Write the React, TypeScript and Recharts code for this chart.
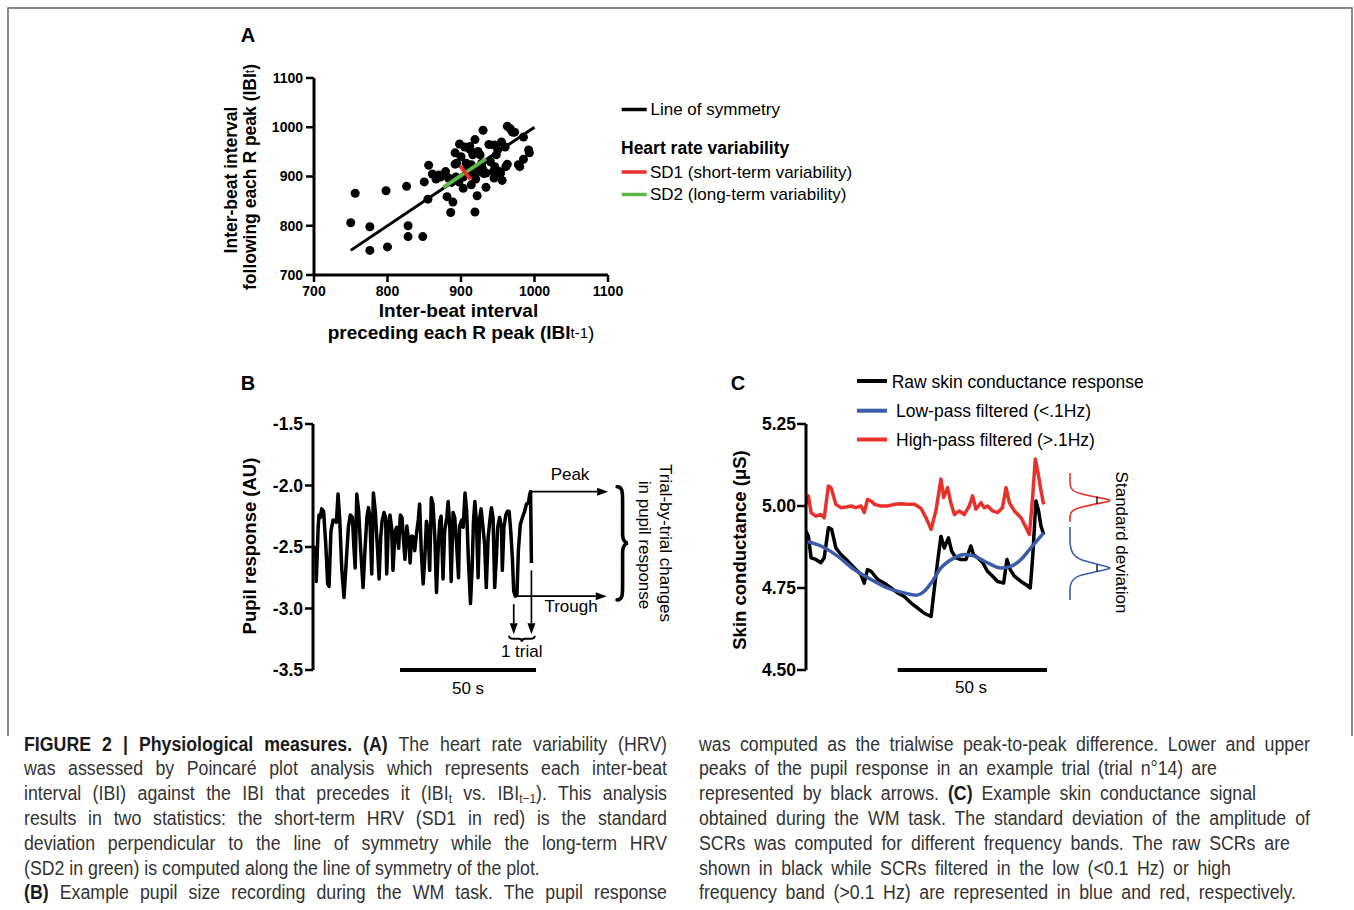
import React from "react";
import { ScatterChart, Scatter, LineChart, Line, XAxis, YAxis, ReferenceLine } from "recharts";

/**
 * Figure 2 — physiological measures.
 * A: Poincaré plot of inter-beat intervals, B: pupil trace, C: skin conductance.
 */

const FONT = '"Liberation Sans", Arial, Helvetica, sans-serif';
const RED = "#e8312a";
const GREEN = "#5cb847";
const BLUE = "#3b5ca9";

// ---- Panel A: Poincaré plot (ms) ----
const ibiPrev = [
  750, 756, 776, 776, 800, 798, 826, 828, 828, 848,
  850, 855, 856, 861, 866, 872, 879, 881, 889, 886,
  887, 892, 898, 892, 897, 903, 907, 912, 919, 923,
  914, 919, 922, 934, 930, 938, 929, 934, 945, 950,
  955, 946, 954, 956, 963, 967, 963, 973, 978, 985,
  985, 992, 993, 970, 883, 894, 907, 914, 928, 944,
  952, 961, 870, 893, 903, 912, 918, 923, 931, 916,
  926, 912, 948, 945, 980, 900, 905, 920, 940, 960,
];
const ibiNext = [
  806, 866, 798, 750, 757, 871, 880, 800, 778, 778,
  889, 854, 923, 905, 895, 899, 910, 859, 848, 827,
  888, 948, 966, 925, 889, 876, 914, 961, 975, 951,
  883, 828, 861, 878, 994, 965, 917, 907, 897, 954,
  970, 920, 907, 892, 1002, 997, 925, 990, 924, 935,
  980, 954, 948, 990, 897, 927, 927, 924, 927, 910,
  910, 920, 903, 899, 899, 906, 906, 910, 906, 944,
  944, 955, 944, 964, 920, 940, 960, 895, 930, 960,
];
const ibiTicks = [700, 800, 900, 1000, 1100];
const symmetryLine = [{ x: 750, y: 750 }, { x: 1000, y: 1000 }];
const sd2Line = [{ x: 876, y: 878 }, { x: 934, y: 936 }];
const sd1Line = [{ x: 899, y: 921 }, { x: 913, y: 894 }];

// ---- Panel B: pupil response (s, AU) ----
const pupilTime = [
  0.0, 0.2, 0.9, 1.2, 1.7, 2.2, 2.9, 3.7, 4.4, 4.9,
  5.6, 6.4, 7.1, 7.6, 8.2, 8.8, 9.6, 10.4, 11.3, 12.0,
  12.7, 13.5, 14.0, 14.5, 15.1, 15.8, 16.5, 17.4, 18.1, 18.8,
  19.4, 19.9, 20.6, 21.2, 21.9, 22.7, 23.3, 23.9, 24.4, 25.1,
  25.7, 26.1, 26.7, 27.3, 27.9, 28.4, 29.2, 29.8, 30.5, 31.1,
  31.7, 32.2, 32.8, 33.5, 34.2, 34.7, 35.3, 35.9, 36.4, 37.0,
  37.7, 38.2, 38.8, 39.5, 40.1, 40.7, 41.3, 41.9, 42.5, 43.1,
  43.8, 44.4, 45.0, 45.6, 46.1, 46.8, 47.4, 48.2, 48.7, 49.3,
  49.8, 50.5, 51.1, 51.8, 52.5, 52.9, 53.7, 54.2, 54.9, 55.5,
  56.1, 56.9, 57.5, 58.0, 58.5, 59.1, 59.7, 60.3, 60.8, 61.5,
  62.1, 62.7, 63.4, 64.0, 64.6, 65.2, 65.8, 66.4, 66.9, 67.6,
  68.3, 68.6, 69.2, 69.9, 70.5, 71.1, 71.7, 72.3, 72.8, 73.4,
  74.0, 74.5, 75.2, 76.0, 76.8, 77.5, 78.2, 78.7, 79.0, 79.3,
];
const pupilValue = [
  -2.49, -2.78, -2.34, -2.24, -2.26, -2.19, -2.21, -2.48, -2.8, -2.82,
  -2.37, -2.28, -2.29, -2.3, -2.07, -2.26, -2.69, -2.91, -2.59, -2.34,
  -2.24, -2.26, -2.49, -2.67, -2.07, -2.21, -2.51, -2.83, -2.53, -2.26,
  -2.18, -2.25, -2.72, -2.06, -2.21, -2.51, -2.76, -2.42, -2.29, -2.22,
  -2.26, -2.72, -2.34, -2.24, -2.34, -2.69, -2.37, -2.34, -2.51, -2.24,
  -2.26, -2.42, -2.6, -2.33, -2.45, -2.63, -2.41, -2.42, -2.53, -2.4,
  -2.28, -2.15, -2.53, -2.8, -2.59, -2.29, -2.36, -2.69, -2.1, -2.15,
  -2.42, -2.87, -2.53, -2.29, -2.25, -2.76, -2.37, -2.26, -2.13, -2.34,
  -2.78, -2.22, -2.26, -2.48, -2.75, -2.33, -2.28, -2.34, -2.06, -2.21,
  -2.59, -2.96, -2.67, -2.29, -2.13, -2.3, -2.75, -2.26, -2.19, -2.34,
  -2.48, -2.83, -2.42, -2.29, -2.18, -2.26, -2.83, -2.59, -2.34, -2.26,
  -2.34, -2.69, -2.34, -2.24, -2.21, -2.21, -2.37, -2.59, -2.86, -2.9,
  -2.88, -2.53, -2.32, -2.26, -2.21, -2.15, -2.14, -2.07, -2.05, -2.63,
];
const pupilTicks = [-3.5, -3.0, -2.5, -2.0, -1.5];

// ---- Panel C: skin conductance (s, µS) ----
const rawTime = [
  0, 0.8, 1.7, 3.3, 5.0, 6.1, 7.5, 8.6, 10.0, 11.7,
  14.0, 16.2, 18.4, 19.5, 20.6, 21.8, 24.0, 26.2, 28.5, 30.7,
  32.9, 35.2, 37.4, 39.6, 41.9, 43.0, 44.1, 45.2, 46.3, 47.7,
  48.8, 50.2, 51.9, 53.6, 55.2, 56.1, 57.5, 59.2, 60.8, 62.5,
  64.2, 66.2, 67.3, 68.4, 69.8, 72.0, 73.7, 75.1, 75.9, 77.0,
  77.9, 78.7, 79.6,
];
const rawValue = [
  4.923, 4.908, 4.842, 4.837, 4.827, 4.842, 4.934, 4.929, 4.872, 4.852,
  4.832, 4.811, 4.791, 4.765, 4.806, 4.801, 4.776, 4.765, 4.75, 4.735,
  4.724, 4.704, 4.689, 4.673, 4.663, 4.75, 4.832, 4.908, 4.872, 4.903,
  4.862, 4.842, 4.837, 4.837, 4.878, 4.852, 4.842, 4.827, 4.801, 4.786,
  4.77, 4.765, 4.837, 4.806, 4.786, 4.77, 4.76, 4.75, 4.842, 5.015,
  4.985, 4.939, 4.913,
];
const highTime = [
  0, 0.8, 1.7, 3.3, 5.0, 6.1, 7.5, 8.4, 10.0, 11.7,
  13.4, 15.1, 16.7, 18.4, 19.5, 20.6, 21.8, 22.9, 25.1, 27.3,
  29.6, 31.8, 34.0, 36.3, 38.5, 40.2, 41.9, 43.5, 45.2, 46.1,
  47.4, 48.5, 49.7, 51.3, 53.0, 54.7, 55.8, 56.9, 58.6, 59.7,
  60.8, 62.5, 64.2, 65.8, 67.0, 68.1, 69.8, 72.0, 73.7, 74.8,
  75.9, 76.8, 77.8, 78.7, 79.6,
];
const highValue = [
  5.005, 5.031, 4.98, 4.969, 4.974, 4.964, 5.061, 5.056, 5.005, 4.995,
  4.997, 5.0, 4.995, 5.0, 4.98, 5.02, 5.015, 5.005, 5.0, 5.0,
  5.005, 5.007, 5.005, 5.005, 4.993, 4.964, 4.929, 4.985, 5.082, 5.026,
  5.056, 5.01, 4.974, 4.985, 4.974, 5.0, 5.031, 4.99, 5.01, 4.995,
  5.0, 4.985, 4.98, 4.995, 5.056, 5.01, 4.985, 4.964, 4.934, 4.913,
  5.026, 5.143, 5.097, 5.046, 5.005,
];
const lowTime = [0, 5.0, 10.6, 16.2, 21.8, 27.3, 32.9, 36.8, 39.6, 41.9, 45.2, 49.7, 53.0, 56.4, 60.8, 65.3, 68.6, 72.0, 75.3, 79.6];
const lowValue = [4.893, 4.878, 4.847, 4.806, 4.776, 4.75, 4.735, 4.728, 4.74, 4.765, 4.811, 4.842, 4.852, 4.847, 4.827, 4.811, 4.816, 4.837, 4.872, 4.918];
const scrTicks = [4.5, 4.75, 5.0, 5.25];

const poincare = ibiPrev.map((x, i) => ({ x, y: ibiNext[i] }));
const pupil = pupilTime.map((t, i) => ({ t, v: pupilValue[i] }));
const rawScr = rawTime.map((t, i) => ({ t, v: rawValue[i] }));
const highScr = highTime.map((t, i) => ({ t, v: highValue[i] }));
const lowScr = lowTime.map((t, i) => ({ t, v: lowValue[i] }));

const axisLine = { stroke: "#000", strokeWidth: 3 };
const tickLine = { stroke: "#000", strokeWidth: 2.5 };
const noDot = () => <g />;

// line with an arrowhead at its (x2, y2) end
const arrowShape = (p: any) => {
  const { x1, y1, x2, y2 } = p;
  const a = Math.atan2(y2 - y1, x2 - x1);
  const len = 11;
  const half = 4;
  const bx = x2 - len * Math.cos(a);
  const by = y2 - len * Math.sin(a);
  const px = -Math.sin(a) * half;
  const py = Math.cos(a) * half;
  return (
    <g>
      <line x1={x1} y1={y1} x2={bx} y2={by} stroke="#000" strokeWidth={1.7} />
      <polygon points={`${x2},${y2} ${bx + px},${by + py} ${bx - px},${by - py}`} fill="#000" />
    </g>
  );
};

// "}" brace drawn along a vertical segment
const bigBrace = (p: any) => {
  const { x1, y1, y2 } = p;
  const w = 11;
  const ym = (y1 + y2) / 2;
  const xm = x1 + w * 0.5;
  const d = `M${x1},${y1} C${x1 + w * 0.45},${y1} ${xm},${y1 + 4} ${xm},${y1 + 14} L${xm},${ym - 9} C${xm},${ym - 3} ${x1 + w * 0.75},${ym} ${x1 + w},${ym} C${x1 + w * 0.75},${ym} ${xm},${ym + 3} ${xm},${ym + 9} L${xm},${y2 - 14} C${xm},${y2 - 4} ${x1 + w * 0.45},${y2} ${x1},${y2}`;
  return <path d={d} fill="none" stroke="#000" strokeWidth={3.6} strokeLinecap="round" />;
};

// small downward brace along a horizontal segment
const smallBrace = (p: any) => {
  const { x1, y1, x2 } = p;
  const h = 6;
  const xm = (x1 + x2) / 2;
  const yh = y1 + h / 2;
  const d = `M${x1},${y1} Q${x1},${yh} ${x1 + 4},${yh} L${xm - 3},${yh} Q${xm},${yh} ${xm},${y1 + h} Q${xm},${yh} ${xm + 3},${yh} L${x2 - 4},${yh} Q${x2},${yh} ${x2},${y1}`;
  return <path d={d} fill="none" stroke="#000" strokeWidth={2} />;
};

function PoincarePlot() {
  const tick = { fill: "#000", fontSize: 14, fontWeight: 700, fontFamily: FONT };
  return (
    <ScatterChart width={440} height={280} margin={{ top: 38, right: 32, bottom: 15, left: 0 }}>
      <XAxis
        type="number"
        dataKey="x"
        domain={[700, 1100]}
        ticks={ibiTicks}
        allowDataOverflow
        height={30}
        axisLine={axisLine}
        tickLine={tickLine}
        tickSize={7}
        tickMargin={4}
        tick={tick}
      />
      <YAxis
        type="number"
        dataKey="y"
        domain={[700, 1100]}
        ticks={ibiTicks}
        allowDataOverflow
        width={114}
        axisLine={axisLine}
        tickLine={tickLine}
        tickSize={8}
        tickMargin={3}
        tick={tick}
      />
      <Scatter data={symmetryLine} line={{ stroke: "#000", strokeWidth: 3 }} shape={noDot} isAnimationActive={false} />
      <Scatter
        data={poincare}
        isAnimationActive={false}
        shape={(p: any) => <circle cx={p.cx} cy={p.cy} r={4.5} fill="#000" />}
      />
      <Scatter data={sd2Line} line={{ stroke: GREEN, strokeWidth: 3.8 }} shape={noDot} isAnimationActive={false} />
      <Scatter data={sd1Line} line={{ stroke: RED, strokeWidth: 3.8 }} shape={noDot} isAnimationActive={false} />
    </ScatterChart>
  );
}

function PupilPlot() {
  const tick = { fill: "#000", fontSize: 17.5, fontWeight: 700, fontFamily: FONT };
  return (
    <LineChart width={480} height={300} data={pupil} margin={{ top: 24, right: 21.56, bottom: 30, left: 0 }}>
      <XAxis type="number" dataKey="t" domain={[-1, 126]} hide allowDataOverflow />
      <YAxis
        type="number"
        domain={[-3.5, -1.5]}
        ticks={pupilTicks}
        allowDataOverflow
        width={113}
        axisLine={axisLine}
        tickLine={tickLine}
        tickSize={8}
        tickMargin={2}
        tick={tick}
        tickFormatter={(v: number) => v.toFixed(1)}
      />
      <Line
        type="linear"
        dataKey="v"
        stroke="#000"
        strokeWidth={3.5}
        strokeLinejoin="round"
        dot={false}
        isAnimationActive={false}
      />
      <ReferenceLine segment={[{ x: 31, y: -3.5 }, { x: 81, y: -3.5 }]} stroke="#000" strokeWidth={4} />
      <ReferenceLine segment={[{ x: 79.0, y: -2.05 }, { x: 107.5, y: -2.05 }]} shape={arrowShape} />
      <ReferenceLine segment={[{ x: 73.4, y: -2.9 }, { x: 107.0, y: -2.9 }]} shape={arrowShape} />
      <ReferenceLine segment={[{ x: 72.8, y: -2.965 }, { x: 72.8, y: -3.21 }]} shape={arrowShape} />
      <ReferenceLine segment={[{ x: 79.3, y: -2.69 }, { x: 79.3, y: -3.21 }]} shape={arrowShape} />
      <ReferenceLine segment={[{ x: 71.1, y: -3.222 }, { x: 80.5, y: -3.222 }]} shape={smallBrace} />
      <ReferenceLine segment={[{ x: 110.8, y: -2.01 }, { x: 110.8, y: -2.93 }]} shape={bigBrace} />
    </LineChart>
  );
}

function ConductancePlot() {
  const tick = { fill: "#000", fontSize: 17.5, fontWeight: 700, fontFamily: FONT };
  return (
    <LineChart width={400} height={300} margin={{ top: 24, right: 40.2, bottom: 30, left: 0 }}>
      <XAxis type="number" dataKey="t" domain={[0, 85]} hide allowDataOverflow />
      <YAxis
        type="number"
        dataKey="v"
        domain={[4.5, 5.25]}
        ticks={scrTicks}
        allowDataOverflow
        width={106}
        axisLine={axisLine}
        tickLine={tickLine}
        tickSize={9}
        tickMargin={1}
        tick={tick}
        tickFormatter={(v: number) => v.toFixed(2)}
      />
      <Line data={highScr} type="linear" dataKey="v" stroke={RED} strokeWidth={3.5} strokeLinejoin="round" dot={false} isAnimationActive={false} />
      <Line data={rawScr} type="linear" dataKey="v" stroke="#000" strokeWidth={3.5} strokeLinejoin="round" dot={false} isAnimationActive={false} />
      <Line data={lowScr} type="monotone" dataKey="v" stroke={BLUE} strokeWidth={3.5} dot={false} isAnimationActive={false} />
      <ReferenceLine segment={[{ x: 30.7, y: 4.5 }, { x: 80.7, y: 4.5 }]} stroke="#000" strokeWidth={4} />
    </LineChart>
  );
}

function Overlay() {
  const t17 = { fontSize: 17, dominantBaseline: "central" as const };
  return (
    <svg
      width={1354}
      height={910}
      fontFamily={FONT}
      style={{ position: "absolute", left: 0, top: 0, pointerEvents: "none" }}
    >
      <path d="M8,736 V8 H1352 V736" fill="none" stroke="#666" strokeWidth={1.5} />

      {/* panel letters */}
      <text x={248} y={35} fontSize={20} fontWeight={700} textAnchor="middle" dominantBaseline="central">A</text>
      <text x={248} y={383} fontSize={20} fontWeight={700} textAnchor="middle" dominantBaseline="central">B</text>
      <text x={738} y={383} fontSize={20} fontWeight={700} textAnchor="middle" dominantBaseline="central">C</text>

      {/* A axis titles */}
      <text x={458.5} y={310} fontSize={19} fontWeight={700} textAnchor="middle" dominantBaseline="central">Inter-beat interval</text>
      <text x={461} y={332} fontSize={19} fontWeight={700} textAnchor="middle" dominantBaseline="central">
        preceding each R peak (IBI<tspan fontWeight={400} fontSize={15}>t-1</tspan>
        <tspan fontWeight={400}>)</tspan>
      </text>
      <text transform="translate(231,180) rotate(-90)" fontSize={17.5} fontWeight={700} textAnchor="middle" dominantBaseline="central">Inter-beat interval</text>
      <text transform="translate(250,177) rotate(-90)" fontSize={17.5} fontWeight={700} textAnchor="middle" dominantBaseline="central">
        following each R peak (IBI<tspan fontWeight={400} fontSize={12}>t</tspan>)
      </text>

      {/* A legend */}
      <line x1={621.7} y1={109.5} x2={646.7} y2={109.5} stroke="#000" strokeWidth={3.5} />
      <text x={650.5} y={109.5} {...t17}>Line of symmetry</text>
      <text x={621} y={148} fontSize={17.5} fontWeight={700} dominantBaseline="central">Heart rate variability</text>
      <line x1={621.7} y1={172} x2={646.7} y2={172} stroke={RED} strokeWidth={3.5} />
      <text x={650} y={172} {...t17}>SD1 (short-term variability)</text>
      <line x1={621.7} y1={194.5} x2={646.7} y2={194.5} stroke={GREEN} strokeWidth={3.5} />
      <text x={650} y={194.5} {...t17}>SD2 (long-term variability)</text>

      {/* B labels */}
      <text transform="translate(249,546) rotate(-90)" fontSize={18.5} fontWeight={700} textAnchor="middle" dominantBaseline="central">Pupil response (AU)</text>
      <text x={570} y={474} textAnchor="middle" {...t17}>Peak</text>
      <text x={571} y={606} textAnchor="middle" {...t17}>Trough</text>
      <text x={521.7} y={651} textAnchor="middle" {...t17}>1 trial</text>
      <text x={468} y={688} textAnchor="middle" {...t17}>50 s</text>
      <text transform="translate(665.5,543) rotate(90)" textAnchor="middle" {...t17}>Trial-by-trial changes</text>
      <text transform="translate(644,545) rotate(90)" textAnchor="middle" {...t17}>in pupil response</text>

      {/* C labels */}
      <text transform="translate(739,550) rotate(-90)" fontSize={18.5} fontWeight={700} textAnchor="middle" dominantBaseline="central">Skin conductance (μS)</text>
      <text x={971} y={687} textAnchor="middle" {...t17}>50 s</text>
      <line x1={857} y1={381} x2={887} y2={381} stroke="#000" strokeWidth={4} />
      <text x={891.7} y={381.5} fontSize={17.5} dominantBaseline="central">Raw skin conductance response</text>
      <line x1={857} y1={410.7} x2={887} y2={410.7} stroke={BLUE} strokeWidth={4} />
      <text x={896} y={410.5} fontSize={17.5} dominantBaseline="central">Low-pass filtered (&lt;.1Hz)</text>
      <line x1={857} y1={439.5} x2={887} y2={439.5} stroke={RED} strokeWidth={4} />
      <text x={896} y={439.5} fontSize={17.5} dominantBaseline="central">High-pass filtered (&gt;.1Hz)</text>

      {/* standard deviation sketches */}
      <path
        d="M1070,473 L1070,482 C1070,490 1074,492 1082,494 C1094,497 1104,498.5 1108,499.5 Q1112,500.5 1108,501.5 C1104,502.5 1094,504 1082,507 C1074,509 1070,511 1070,518 L1070,522"
        fill="none"
        stroke={RED}
        strokeWidth={1.6}
      />
      <line x1={1097} y1={496.5} x2={1097} y2={504} stroke="#000" strokeWidth={1.3} />
      <path
        d="M1070,527 L1070,540 C1070,552 1074,557 1082,560 C1094,563.5 1104,566 1108,567 Q1112,568 1108,569 C1104,570 1094,572 1082,575 C1074,577 1070,581 1070,590 L1070,600"
        fill="none"
        stroke={BLUE}
        strokeWidth={1.6}
      />
      <line x1={1097} y1={564.5} x2={1097} y2={571.5} stroke="#000" strokeWidth={1.3} />
      <text transform="translate(1121.5,542.5) rotate(90)" textAnchor="middle" {...t17}>Standard deviation</text>
    </svg>
  );
}

const LINE_TOPS = [731.6, 756.4, 781.2, 806, 830.8, 855.6, 880.4];
const SQUEEZE = 0.915;

// one caption line; "justify" stretches it to the given right edge, otherwise natural spacing
function CapLine({ i, left, right, justify = true, children }: { i: number; left: number; right: number; justify?: boolean; children: React.ReactNode }) {
  return (
    <div
      style={{
        position: "absolute",
        left,
        top: LINE_TOPS[i],
        width: (right - left) / SQUEEZE,
        lineHeight: "24.8px",
        whiteSpace: justify ? "normal" : "nowrap",
        textAlign: justify ? "justify" : "left",
        textAlignLast: justify ? "justify" : "left",
        transform: `scaleX(${SQUEEZE})`,
        transformOrigin: "0 0",
      }}
    >
      {children}
    </div>
  );
}

function Caption() {
  const b = { fontWeight: 700, color: "#1a1a1a" };
  const sub = { fontSize: 13, verticalAlign: "-3px", lineHeight: 0 };
  return (
    <div style={{ position: "absolute", left: 0, top: 0, fontFamily: FONT, fontSize: 19.4, color: "#333" }}>
      <CapLine i={0} left={24} right={667}>
        <span style={b}>FIGURE 2 | Physiological measures. (A)</span> The heart rate variability (HRV)
      </CapLine>
      <CapLine i={1} left={24} right={667}>was assessed by Poincaré plot analysis which represents each inter-beat</CapLine>
      <CapLine i={2} left={24} right={667}>
        interval (IBI) against the IBI that precedes it (IBI<span style={sub}>t</span> vs. IBI<span style={sub}>t−1</span>). This analysis
      </CapLine>
      <CapLine i={3} left={24} right={667}>results in two statistics: the short-term HRV (SD1 in red) is the standard</CapLine>
      <CapLine i={4} left={24} right={667}>deviation perpendicular to the line of symmetry while the long-term HRV</CapLine>
      <CapLine i={5} left={24} right={543} justify={false}>(SD2 in green) is computed along the line of symmetry of the plot.</CapLine>
      <CapLine i={6} left={24} right={667}>
        <span style={b}>(B)</span> Example pupil size recording during the WM task. The pupil response
      </CapLine>

      <CapLine i={0} left={699} right={1310}>was computed as the trialwise peak-to-peak difference. Lower and upper</CapLine>
      <CapLine i={1} left={699} right={1217}>peaks of the pupil response in an example trial (trial n°14) are</CapLine>
      <CapLine i={2} left={699} right={1256}>
        represented by black arrows. <span style={b}>(C)</span> Example skin conductance signal
      </CapLine>
      <CapLine i={3} left={699} right={1310}>obtained during the WM task. The standard deviation of the amplitude of</CapLine>
      <CapLine i={4} left={699} right={1290}>SCRs was computed for different frequency bands. The raw SCRs are</CapLine>
      <CapLine i={5} left={699} right={1231}>shown in black while SCRs filtered in the low (&lt;0.1 Hz) or high</CapLine>
      <CapLine i={6} left={699} right={1296}>frequency band (&gt;0.1 Hz) are represented in blue and red, respectively.</CapLine>
    </div>
  );
}

export default function App() {
  return (
    <div style={{ position: "relative", width: 1354, height: 910, background: "#fff", fontFamily: FONT, overflow: "hidden" }}>
      <style>{"html,body{margin:0;padding:0;background:#fff}"}</style>
      <div style={{ position: "absolute", left: 200, top: 40 }}>
        <PoincarePlot />
      </div>
      <div style={{ position: "absolute", left: 200, top: 400 }}>
        <PupilPlot />
      </div>
      <div style={{ position: "absolute", left: 700, top: 400 }}>
        <ConductancePlot />
      </div>
      <Overlay />
      <Caption />
    </div>
  );
}
